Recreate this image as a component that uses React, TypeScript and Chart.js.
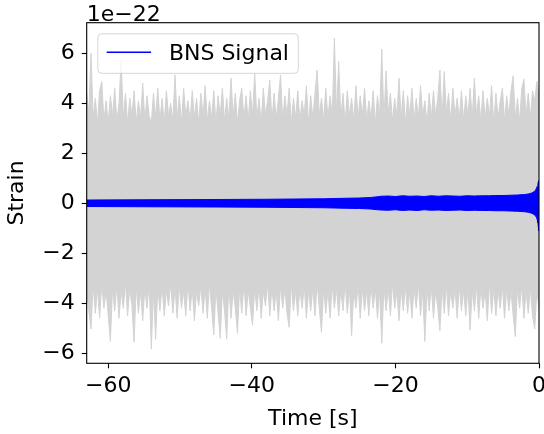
import React, { useEffect, useRef } from "react";
import { Chart, registerables } from "chart.js";

Chart.register(...registerables);

// ---- data (strain in units of 1e-22) ----
const T_START = -63;
const T_STEP = 0.3;

// upper envelope of the detector noise, one value per 0.3 s sample
const noiseUpper = [
  4.4, 3.6, 6.0, 3.4, 4.2, 3.2, 4.5, 4.87, 3.3, 4.1,
  3.2, 4.3, 3.5, 4.6, 3.3, 4.0, 5.73, 3.4, 4.4, 3.2,
  4.2, 3.5, 4.5, 3.2, 4.1, 3.4, 4.8, 3.3, 4.3, 3.5,
  3.2, 4.4, 3.4, 4.6, 3.3, 4.2, 3.2, 4.5, 3.5, 4.0,
  3.3, 5.13, 3.4, 4.3, 3.2, 4.6, 3.5, 4.1, 3.3, 4.5,
  3.4, 4.2, 3.2, 4.4, 3.5, 4.7, 3.3, 4.1, 3.4, 4.5,
  3.2, 4.3, 3.5, 4.6, 3.3, 4.2, 3.4, 5.0, 3.5, 4.4,
  3.2, 4.1, 4.6, 3.4, 4.3, 3.3, 4.5, 3.5, 5.2, 3.4,
  4.2, 3.2, 4.6, 3.5, 4.1, 4.93, 3.3, 4.4, 3.4, 4.2,
  5.13, 3.3, 4.3, 3.5, 4.6, 3.2, 4.2, 3.4, 4.5, 3.3,
  4.1, 3.5, 4.7, 3.2, 4.3, 3.4, 4.4, 5.33, 3.5, 4.2,
  3.3, 4.6, 3.4, 4.3, 3.5, 6.6, 3.6, 5.67, 3.4, 4.4,
  3.2, 4.5, 3.5, 4.2, 3.3, 4.7, 3.4, 4.3, 3.5, 4.6,
  3.3, 4.1, 3.4, 4.5, 3.2, 4.3, 3.5, 6.16, 3.4, 5.3,
  3.6, 4.4, 3.3, 4.2, 3.5, 5.0, 3.4, 4.5, 3.2, 4.3,
  3.5, 4.6, 3.3, 4.2, 3.4, 4.7, 3.5, 4.1, 3.2, 4.4,
  3.4, 4.5, 3.5, 4.2, 5.33, 3.4, 5.27, 3.6, 4.4, 3.3,
  4.6, 3.5, 4.2, 3.4, 4.5, 3.3, 4.3, 3.5, 4.6, 3.4,
  5.0, 3.5, 4.3, 3.3, 4.5, 3.4, 4.2, 3.5, 4.7, 3.2,
  4.4, 3.4, 4.1, 4.6, 3.3, 4.3, 3.5, 4.5, 5.1, 3.4,
  4.2, 3.3, 4.6, 4.96, 3.5, 4.4, 3.4, 4.5, 4.1, 4.87,
  4.3,
];

// lower envelope of the detector noise
const noiseLower = [
  -3.5, -4.3, -5.03, -3.3, -4.4, -3.4, -4.6, -3.2, -4.2, -3.5,
  -4.5, -5.53, -3.4, -4.3, -3.3, -4.6, -3.5, -4.2, -3.2, -4.5,
  -3.4, -4.1, -5.56, -3.3, -4.4, -3.5, -4.7, -3.4, -4.2, -3.2,
  -5.83, -3.5, -5.44, -3.4, -4.3, -3.3, -4.5, -3.5, -4.1, -3.2,
  -4.4, -3.4, -4.6, -3.3, -4.2, -3.5, -4.5, -3.2, -4.3, -3.4,
  -4.7, -3.5, -4.1, -3.3, -4.4, -3.4, -4.6, -3.2, -4.2, -5.27,
  -3.4, -4.4, -5.4, -3.5, -4.3, -5.44, -3.3, -4.6, -3.5, -4.2,
  -5.2, -3.4, -4.4, -3.2, -4.5, -3.5, -4.2, -4.87, -3.4, -4.3,
  -3.3, -4.6, -3.5, -4.1, -3.2, -4.5, -3.4, -4.3, -3.5, -4.7,
  -3.3, -4.2, -3.4, -4.4, -4.96, -3.2, -4.3, -3.5, -4.5, -3.4,
  -4.2, -3.3, -4.6, -3.5, -4.3, -3.4, -4.5, -3.2, -4.2, -5.17,
  -3.4, -4.4, -3.5, -4.6, -3.3, -4.2, -3.4, -4.5, -3.5, -4.3,
  -3.2, -4.4, -3.4, -5.3, -3.5, -4.2, -3.3, -4.6, -3.4, -4.3,
  -3.5, -4.5, -3.3, -4.2, -3.4, -4.6, -3.5, -5.6, -3.3, -4.3,
  -3.4, -4.5, -3.2, -4.2, -3.5, -4.7, -3.4, -4.3, -3.3, -4.4,
  -3.5, -4.6, -3.4, -4.2, -3.2, -4.5, -3.5, -5.53, -3.4, -4.3,
  -3.3, -4.6, -3.5, -4.2, -5.1, -3.4, -4.4, -3.3, -4.5, -3.5,
  -4.2, -3.4, -4.6, -3.3, -4.3, -3.5, -4.5, -3.4, -5.07, -3.5,
  -4.3, -3.3, -4.6, -3.4, -4.2, -3.5, -4.7, -3.2, -4.4, -3.4,
  -4.5, -3.5, -4.2, -3.3, -4.6, -3.4, -4.3, -3.5, -4.5, -5.33,
  -3.4, -4.2, -3.3, -4.6, -3.5, -4.4, -3.4, -4.5, -5.03, -3.5,
  -4.2,
];

// BNS chirp envelope
const signalTime = [
  -63, -55, -45, -38, -34, -30, -27, -25, -23.5, -22.5,
  -22, -21, -20, -19, -18, -17, -16, -15, -14, -13,
  -12, -11, -10, -9, -8, -7, -6, -5, -4, -3,
  -2, -1.5, -1, -0.7, -0.5, -0.35, -0.25, -0.15, -0.1, -0.05, 0,
];
const signalUpper = [
  0.13, 0.14, 0.15, 0.16, 0.17, 0.18, 0.2, 0.21, 0.23, 0.26,
  0.28, 0.29, 0.27, 0.3, 0.28, 0.29, 0.27, 0.3, 0.28, 0.3,
  0.29, 0.28, 0.3, 0.29, 0.3, 0.3, 0.31, 0.31, 0.32, 0.33,
  0.35, 0.37, 0.41, 0.46, 0.52, 0.6, 0.68, 0.78, 0.86, 0.9, 0.0,
];
const signalLower = [
  -0.13, -0.14, -0.15, -0.16, -0.17, -0.18, -0.2, -0.21, -0.23, -0.26,
  -0.27, -0.28, -0.26, -0.29, -0.27, -0.29, -0.26, -0.28, -0.27, -0.29,
  -0.28, -0.27, -0.29, -0.28, -0.29, -0.29, -0.3, -0.3, -0.31, -0.32,
  -0.34, -0.36, -0.4, -0.45, -0.5, -0.57, -0.66, -0.78, -0.92, -1.1, 0.0,
];

const xTicks = [-60, -40, -20, 0];
const yTicks = [-6, -4, -2, 0, 2, 4, 6];
const seriesLabel = "BNS Signal";
const xTitle = "Time [s]";
const yTitle = "Strain";
const offsetText = "1e\u221222";

const FONT = "DejaVu Sans";
const FS = 22;

const fmt = (v: number | string) => {
  const n = Number(v);
  return n < 0 ? "\u2212" + Math.abs(n) : String(n);
};

const framePlugin = {
  id: "frameAndLegend",
  afterDraw(chart: any) {
    const ctx = chart.ctx as CanvasRenderingContext2D;
    const { left, top, right, bottom } = chart.chartArea;
    ctx.save();
    // spines
    ctx.strokeStyle = "#000";
    ctx.lineWidth = 1.1;
    ctx.strokeRect(left, top, right - left, bottom - top);
    // offset text
    ctx.fillStyle = "#000";
    ctx.font = `${FS}px "${FONT}"`;
    ctx.textAlign = "left";
    ctx.textBaseline = "alphabetic";
    ctx.fillText(offsetText, left, 20.5);
    // legend
    const bx = left + 11.1;
    const by = top + 11.1;
    const bw = 200.5;
    const bh = 39.5;
    const r = 4;
    ctx.beginPath();
    ctx.moveTo(bx + r, by);
    ctx.lineTo(bx + bw - r, by);
    ctx.arcTo(bx + bw, by, bx + bw, by + r, r);
    ctx.lineTo(bx + bw, by + bh - r);
    ctx.arcTo(bx + bw, by + bh, bx + bw - r, by + bh, r);
    ctx.lineTo(bx + r, by + bh);
    ctx.arcTo(bx, by + bh, bx, by + bh - r, r);
    ctx.lineTo(bx, by + r);
    ctx.arcTo(bx, by, bx + r, by, r);
    ctx.closePath();
    ctx.fillStyle = "rgba(255,255,255,0.8)";
    ctx.fill();
    ctx.strokeStyle = "rgba(204,204,204,0.8)";
    ctx.lineWidth = 1;
    ctx.stroke();
    ctx.beginPath();
    ctx.moveTo(bx + 8.9, by + 18.5);
    ctx.lineTo(bx + 8.9 + 44.4, by + 18.5);
    ctx.strokeStyle = "#0000ff";
    ctx.lineWidth = 1.5;
    ctx.stroke();
    ctx.fillStyle = "#000";
    ctx.fillText(seriesLabel, bx + 8.9 + 44.4 + 17.8, by + 26.3);
    ctx.restore();
  },
};

export default function App() {
  const ref = useRef<HTMLCanvasElement | null>(null);

  useEffect(() => {
    if (!ref.current) return;
    const noiseU = noiseUpper.map((y, i) => ({ x: T_START + i * T_STEP, y }));
    const noiseL = noiseLower.map((y, i) => ({ x: T_START + i * T_STEP, y }));
    const sigU = signalTime.map((x, i) => ({ x, y: signalUpper[i] }));
    const sigL = signalTime.map((x, i) => ({ x, y: signalLower[i] }));

    const tickFont = { family: FONT, size: FS };

    const chart = new Chart(ref.current, {
      type: "line",
      data: {
        datasets: [
          {
            label: seriesLabel,
            data: sigU,
            borderColor: "#0000ff",
            backgroundColor: "#0000ff",
            borderWidth: 1,
            pointRadius: 0,
            fill: "+1",
            order: 0,
          },
          {
            label: seriesLabel + " (lower)",
            data: sigL,
            borderColor: "#0000ff",
            backgroundColor: "#0000ff",
            borderWidth: 1,
            pointRadius: 0,
            fill: false,
            order: 0,
          },
          {
            label: "Noise",
            data: noiseU,
            borderColor: "#d3d3d3",
            backgroundColor: "#d3d3d3",
            borderWidth: 1,
            pointRadius: 0,
            fill: "+1",
            order: 1,
          },
          {
            label: "Noise (lower)",
            data: noiseL,
            borderColor: "#d3d3d3",
            backgroundColor: "#d3d3d3",
            borderWidth: 1,
            pointRadius: 0,
            fill: false,
            order: 1,
          },
        ],
      },
      options: {
        responsive: false,
        animation: false,
        devicePixelRatio: 1,
        layout: { padding: { top: 22.7, right: 5, left: 0, bottom: 0 } },
        plugins: {
          legend: { display: false },
          tooltip: { enabled: false },
        },
        scales: {
          x: {
            type: "linear",
            min: -63,
            max: 0,
            afterBuildTicks: (s: any) => {
              s.ticks = xTicks.map((v) => ({ value: v }));
            },
            afterFit: (s: any) => {
              s.height = 70.7;
              s.paddingLeft = 0;
              s.paddingRight = 0;
            },
            grid: {
              display: true,
              drawOnChartArea: false,
              drawTicks: true,
              tickLength: 5,
              tickColor: "#000",
              tickWidth: 1.1,
            },
            border: { display: false },
            ticks: {
              font: tickFont,
              color: "#000",
              padding: 5,
              maxRotation: 0,
              autoSkip: false,
              callback: (v: any) => fmt(v),
            },
            title: {
              display: true,
              text: xTitle,
              font: tickFont,
              color: "#000",
              padding: { top: 0, bottom: 2 },
            },
          },
          y: {
            type: "linear",
            min: -6.4,
            max: 7.22,
            afterBuildTicks: (s: any) => {
              s.ticks = yTicks.map((v) => ({ value: v }));
            },
            afterFit: (s: any) => {
              s.width = 86.7;
              s.paddingTop = 0;
              s.paddingBottom = 0;
            },
            grid: {
              display: true,
              drawOnChartArea: false,
              drawTicks: true,
              tickLength: 5,
              tickColor: "#000",
              tickWidth: 1.1,
            },
            border: { display: false },
            ticks: {
              font: tickFont,
              color: "#000",
              padding: 7,
              autoSkip: false,
              callback: (v: any) => fmt(v),
            },
            title: {
              display: true,
              text: yTitle,
              font: tickFont,
              color: "#000",
              padding: { top: 4, bottom: 0 },
            },
          },
        },
      },
      plugins: [framePlugin],
    } as any);

    return () => chart.destroy();
  }, []);

  return (
    <div style={{ position: "absolute", left: 0, top: 0, width: 544, height: 434, background: "#fff" }}>
      <canvas ref={ref} width={544} height={434} style={{ width: 544, height: 434, display: "block" }} />
    </div>
  );
}
